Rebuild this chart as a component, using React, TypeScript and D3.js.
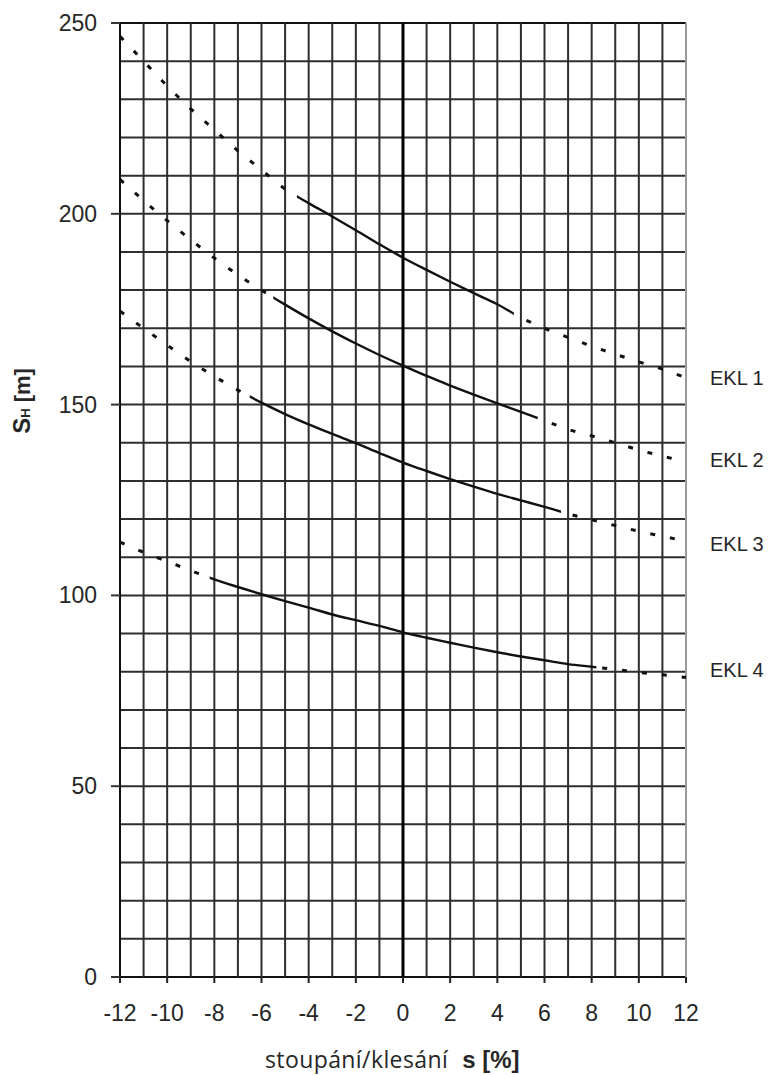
import React from 'react';
import * as d3 from 'd3';

// slope s [%]
const slopes = [-12, -11, -10, -9, -8, -7, -6, -5, -4, -3, -2, -1, 0, 1, 2, 3, 4, 5, 6, 7, 8, 9, 10, 11, 12];
// S_H [m] per curve
const ekl1 = [246.5, 240, 233.5, 227.5, 222, 216.5, 211.5, 206.5, 202.8, 199.3, 195.7, 192, 188.5, 185.3, 182.2, 179.2, 176.3, 172.8, 170, 167.6, 165.3, 163.2, 161.2, 159.3, 157];
const ekl2 = [209, 203.5, 198.2, 193.2, 188.4, 184, 180, 176.2, 172.6, 169.2, 166, 163, 160.2, 157.5, 155, 152.6, 150.3, 148.1, 145.8, 143.5, 141.8, 140, 138.1, 136.5, 135];
const ekl3 = [174.5, 170, 165.6, 161.3, 157.4, 153.8, 150.5, 147.5, 144.8, 142.3, 139.9, 137.3, 134.8, 132.6, 130.5, 128.5, 126.6, 124.9, 123.2, 121.4, 119.8, 118.3, 116.8, 115.5, 114.2];
const ekl4 = [114, 111.3, 108.9, 106.5, 104.2, 102.2, 100.3, 98.5, 96.8, 95, 93.5, 92, 90.3, 88.9, 87.6, 86.3, 85.1, 84, 83, 82, 81.3, 80.6, 79.8, 79.2, 78.5];

const seriesNames = ['EKL 1', 'EKL 2', 'EKL 3', 'EKL 4'];
const seriesValues = [ekl1, ekl2, ekl3, ekl4];
const solidStart = [-4.5, -5.5, -6.5, -8.2];
const solidEnd = [4.7, 5.7, 6.7, 8.2];
const labelValues = [157, 135.5, 113.5, 80.5];

const xTicks = [-12, -10, -8, -6, -4, -2, 0, 2, 4, 6, 8, 10, 12];
const yTicks = [0, 50, 100, 150, 200, 250];
const xGrid = d3.range(-12, 13, 1);
const yGrid = d3.range(0, 251, 10);

const W = 772;
const H = 1075;

export default function App() {
  const x = d3.scaleLinear().domain([-12, 12]).range([120, 686]);
  const y = d3.scaleLinear().domain([0, 250]).range([977, 23]);
  const line = d3
    .line<[number, number]>()
    .x((d) => x(d[0]))
    .y((d) => y(d[1]))
    .curve(d3.curveMonotoneX);

  const textColor = '#262626';
  const font = '"Liberation Sans", Arial, sans-serif';

  return (
    <svg
      width={W}
      height={H}
      viewBox={`0 0 ${W} ${H}`}
      style={{ position: 'absolute', left: 0, top: 0, background: '#fff' }}
    >
      <rect x={0} y={0} width={W} height={H} fill="#fff" />
      <defs>
        {seriesValues.map((_, i) => (
          <React.Fragment key={i}>
            <clipPath id={`cl${i}`}>
              <rect x={0} y={0} width={x(solidStart[i])} height={H} />
            </clipPath>
            <clipPath id={`cm${i}`}>
              <rect x={x(solidStart[i])} y={0} width={x(solidEnd[i]) - x(solidStart[i])} height={H} />
            </clipPath>
            <clipPath id={`cr${i}`}>
              <rect x={x(solidEnd[i])} y={0} width={W - x(solidEnd[i])} height={H} />
            </clipPath>
          </React.Fragment>
        ))}
      </defs>

      {/* horizontal grid */}
      {yGrid.map((v) => (
        <line
          key={`hy${v}`}
          x1={x(-12)}
          x2={x(12)}
          y1={y(v)}
          y2={y(v)}
          stroke={v === 0 || v === 250 ? '#111' : '#2e2e2e'}
          strokeWidth={2}
        />
      ))}
      {/* vertical grid */}
      {xGrid.map((v) => (
        <line
          key={`vx${v}`}
          x1={x(v)}
          x2={x(v)}
          y1={y(0)}
          y2={y(250)}
          stroke={v === 0 ? '#000' : v === 12 ? '#9a9a9a' : v === -12 ? '#111' : '#2e2e2e'}
          strokeWidth={v === 0 ? 3 : 2}
        />
      ))}

      {/* y ticks and labels */}
      {yTicks.map((v) => (
        <g key={`yt${v}`}>
          <line x1={x(-12) - 9} x2={x(-12)} y1={y(v)} y2={y(v)} stroke="#333" strokeWidth={2} />
          <text
            x={97}
            y={y(v)}
            textAnchor="end"
            dominantBaseline="central"
            fontFamily={font}
            fontSize={23}
            fill={textColor}
          >
            {v}
          </text>
        </g>
      ))}

      {/* x ticks and labels */}
      {xTicks.map((v) => (
        <g key={`xt${v}`}>
          <line x1={x(v)} x2={x(v)} y1={y(0)} y2={y(0) + 6} stroke="#222" strokeWidth={2} />
          <text
            x={x(v)}
            y={1021}
            textAnchor="middle"
            fontFamily={font}
            fontSize={23}
            fill={textColor}
          >
            {v}
          </text>
        </g>
      ))}

      {/* curves */}
      {seriesValues.map((vals, i) => {
        const pts = slopes.map((s, k) => [s, vals[k]] as [number, number]);
        const d = line(pts) || '';
        return (
          <g key={`s${i}`} fill="none">
            <path d={d} clipPath={`url(#cl${i})`} stroke="#111" strokeWidth={3} strokeDasharray="5 15" />
            <path d={d} clipPath={`url(#cm${i})`} stroke="#111" strokeWidth={2.4} />
            <path d={d} clipPath={`url(#cr${i})`} stroke="#111" strokeWidth={3} strokeDasharray="5 15" />
            <text
              x={710}
              y={y(labelValues[i])}
              dominantBaseline="central"
              fontFamily={font}
              fontSize={20}
              fill={textColor}
            >
              {seriesNames[i]}
            </text>
          </g>
        );
      })}

      {/* y-axis title */}
      <text
        transform="translate(30,401) rotate(-90)"
        textAnchor="middle"
        fontFamily={font}
        fontWeight="bold"
        fill={textColor}
      >
        <tspan fontSize={24}>S</tspan>
        <tspan fontSize={13}>H</tspan>
        <tspan fontSize={22}> [m]</tspan>
      </text>

      {/* x-axis title */}
      <text x={265} y={1068} fontFamily='"Open Sans", "Noto Sans", sans-serif' fill={textColor}>
        <tspan fontSize={23} letterSpacing={0.4}>stoupání/klesání</tspan>
        <tspan fontSize={24} dx={14} fontFamily={font} fontWeight="bold">
          s [%]
        </tspan>
      </text>
    </svg>
  );
}
